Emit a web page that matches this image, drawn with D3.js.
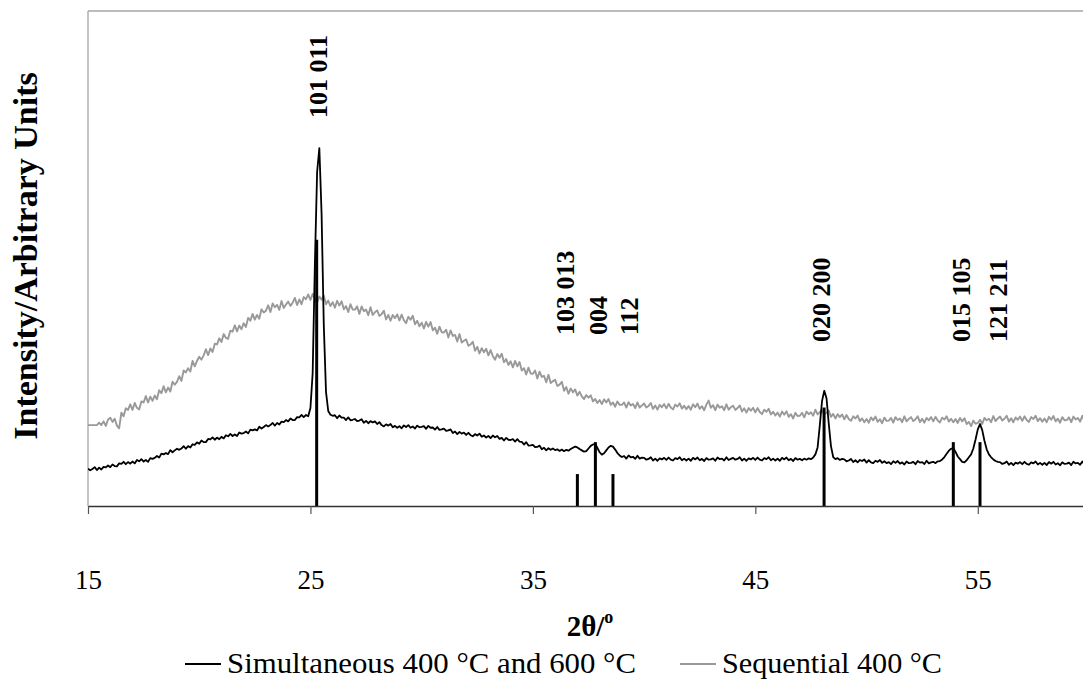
<!DOCTYPE html>
<html>
<head>
<meta charset="utf-8">
<script src="https://cdn.jsdelivr.net/npm/d3@7"></script>
<style>
  body { margin: 0; background: #fff; }
  svg { display: block; font-family: "Liberation Serif", "Times New Roman", serif; }
</style>
</head>
<body>
<svg id="canvas" width="1083" height="687"></svg>
<script>
// diffraction angle grid: first angle and step (degrees 2-theta)
const angleStart = 15;
const angleStep = 0.1;

// Simultaneous 400 °C and 600 °C, one row per degree (15.0 ... 59.9, then 60.0)
const simultaneous = [
  14.0,13.4,13.9,14.6,13.5,14.4,13.7,14.7,14.5,15.2,
  14.6,15.6,15.0,14.9,16.0,15.8,16.6,15.7,16.5,15.9,
  16.7,16.0,17.3,16.8,17.6,16.7,17.3,16.6,18.0,17.7,
  18.1,18.8,18.2,19.7,19.4,19.9,19.5,21.0,20.2,20.9,
  21.5,21.1,21.6,22.5,21.5,22.5,22.0,23.2,23.0,23.9,
  23.4,24.6,24.0,24.0,25.2,25.0,25.8,24.9,25.7,25.1,
  26.0,25.4,26.6,26.2,27.1,26.3,26.9,26.3,27.6,27.2,
  27.4,28.0,27.3,28.7,28.4,28.8,28.4,29.8,29.1,29.7,
  30.4,29.9,30.4,31.2,30.2,31.2,30.6,31.7,31.5,32.3,
  31.8,32.9,32.3,32.3,33.4,33.3,34.2,33.4,34.2,33.7,
  36.8,50.0,91.0,125.5,134.5,110.0,68.0,42.8,35.7,34.3,
  33.9,34.1,33.0,34.0,33.2,33.2,32.3,33.3,32.2,32.4,
  32.7,31.9,32.1,32.6,31.3,32.0,31.1,31.9,31.4,31.8,
  30.8,31.5,30.4,29.9,30.7,30.2,30.8,29.6,30.1,29.4,
  30.0,29.2,30.3,29.7,30.4,29.4,29.9,29.1,30.2,29.6,
  29.7,30.0,29.0,30.1,29.4,29.5,28.7,29.7,28.6,28.8,
  29.1,28.2,28.4,28.8,27.4,28.0,27.0,27.8,27.2,27.6,
  26.7,27.5,26.6,26.2,27.0,26.5,27.2,26.0,26.5,25.7,
  26.3,25.5,26.5,25.8,26.3,25.2,25.6,24.6,25.6,24.9,
  24.8,25.1,24.2,25.1,24.2,24.1,23.1,24.0,22.7,22.8,
  23.0,22.1,22.2,22.7,21.3,21.9,20.9,21.7,21.1,21.6,
  21.0,21.3,20.7,21.2,20.6,21.1,20.8,21.4,21.9,22.3,
  22.0,21.4,20.9,20.4,20.6,21.6,22.6,23.1,23.4,21.8,
  20.2,19.3,19.8,20.9,22.0,22.6,22.3,21.2,19.9,19.0,
  18.4,18.8,17.8,19.0,18.3,18.5,17.7,18.9,17.8,18.2,
  18.1,17.4,17.7,18.3,17.1,17.8,17.0,17.9,17.5,18.1,
  17.3,18.2,17.4,17.1,18.0,17.6,18.3,17.2,17.8,17.1,
  17.8,17.0,18.1,17.5,18.2,17.2,17.7,16.9,18.0,17.4,
  17.5,17.9,17.0,18.2,17.6,17.8,17.1,18.3,17.3,17.7,
  18.1,17.4,17.7,18.3,17.1,17.8,17.0,17.9,17.5,18.1,
  17.3,18.2,17.4,17.1,18.0,17.6,18.3,17.2,17.8,17.1,
  17.8,17.0,18.1,17.5,18.2,17.2,17.7,16.9,18.0,17.4,
  17.7,17.2,17.8,17.4,17.9,17.6,18.2,19.4,22.0,30.5,
  39.5,43.3,40.5,31.0,22.5,18.4,17.6,18.0,17.3,17.7,
  17.5,16.8,17.1,17.7,16.5,17.2,16.4,17.3,16.9,17.5,
  16.3,17.2,16.4,16.1,17.0,16.6,17.3,16.2,16.8,16.1,
  16.5,15.7,16.8,16.2,16.9,15.9,16.4,15.6,16.7,16.1,
  16.2,16.6,15.7,16.9,16.3,16.5,15.8,17.0,16.0,16.4,
  16.6,16.1,16.8,16.9,17.5,18.4,19.6,20.8,21.5,21.8,
  20.3,18.6,17.6,16.6,16.4,17.2,18.3,19.4,21.6,25.0,
  28.8,30.8,28.5,24.5,21.3,19.4,18.3,17.5,16.9,16.6,
  16.5,15.8,16.1,16.7,15.5,16.2,15.4,16.3,15.9,16.5,
  15.7,16.6,15.8,15.5,16.4,16.0,16.7,15.6,16.2,15.5,
  16.2,15.4,16.5,15.9,16.6,15.6,16.1,15.3,16.4,15.8,
  15.9,16.3,15.4,16.6,16.0,16.2,15.5,16.7,15.7,16.1,
  15.9
];

// Sequential 400 °C, same grid
const sequential = [
  30.4,30.4,30.4,30.4,30.4,31.3,30.4,31.8,30.1,32.4,
  33.2,31.6,32.8,30.2,29.2,35.1,33.7,36.7,36.1,38.2,
  36.1,38.7,36.9,36.3,39.3,38.9,41.3,38.9,41.1,39.5,
  41.5,40.1,43.5,42.4,45.0,42.7,44.5,43.0,46.7,45.6,
  46.6,48.8,47.0,50.9,50.2,51.8,50.5,54.5,52.5,54.5,
  56.1,55.0,56.6,58.9,56.7,59.2,57.9,61.0,60.7,63.0,
  61.6,64.6,63.2,62.8,65.9,65.5,67.9,65.6,67.8,66.4,
  68.7,67.3,70.7,69.6,72.2,70.0,71.8,70.4,73.9,72.7,
  73.4,75.4,72.9,76.1,74.7,75.6,73.7,77.0,74.4,75.7,
  76.8,75.2,76.4,78.2,75.5,77.6,75.8,78.5,77.7,79.5,
  77.4,79.7,77.6,76.4,78.7,77.5,79.1,75.8,77.2,75.1,
  76.6,74.5,77.1,75.3,76.9,73.9,75.1,72.9,75.8,73.8,
  73.8,75.0,72.2,75.0,73.2,73.8,71.7,74.7,71.8,72.8,
  73.5,71.4,72.1,73.4,70.1,71.8,69.6,71.8,70.6,72.0,
  69.7,71.9,69.8,68.7,71.1,70.0,71.5,68.3,69.6,67.5,
  68.9,66.7,69.2,67.4,69.1,66.0,67.0,64.7,67.4,65.3,
  65.2,66.2,63.3,66.0,63.9,64.3,61.8,64.6,61.4,62.1,
  62.6,60.2,60.7,61.7,58.3,59.8,57.3,59.3,57.8,59.1,
  56.6,58.6,56.3,55.0,57.1,55.7,57.2,54.0,55.2,53.0,
  54.4,52.1,54.5,52.5,54.1,50.9,51.8,49.4,52.0,49.8,
  49.7,50.9,47.9,50.5,48.5,48.9,46.5,49.3,46.2,46.9,
  47.4,45.1,45.6,46.7,43.3,44.7,42.2,44.2,42.7,43.8,
  41.5,42.9,41.2,40.2,41.7,40.7,41.6,39.3,40.2,38.7,
  39.8,38.3,40.1,38.9,40.2,38.0,38.9,37.3,39.3,38.0,
  38.0,38.9,37.0,39.0,37.8,38.3,36.8,38.9,37.0,37.8,
  38.5,37.0,37.6,38.7,36.5,37.8,36.2,38.0,37.1,38.3,
  36.7,38.4,37.0,36.3,38.1,37.4,38.6,36.6,37.7,36.4,
  37.6,36.2,38.2,37.1,38.5,36.5,37.5,36.0,38.1,39.6,
  36.9,37.9,36.0,38.1,36.9,37.5,36.0,38.2,36.2,37.1,
  37.7,36.1,36.8,37.8,35.5,36.7,35.1,36.8,35.8,36.9,
  35.2,36.8,35.3,34.5,36.2,35.4,36.5,34.4,35.4,34.0,
  35.1,33.6,35.5,34.3,35.6,33.5,34.5,32.9,35.0,33.8,
  33.9,35.0,33.3,35.5,34.5,35.2,33.9,36.2,34.4,35.3,
  36.0,34.5,35.0,35.9,33.5,34.6,32.9,34.5,33.4,34.4,
  32.6,34.2,32.7,32.0,33.7,32.9,34.0,31.9,32.9,31.5,
  32.7,31.3,33.3,32.2,33.6,31.6,32.6,31.1,33.2,32.0,
  32.1,33.1,31.3,33.4,32.3,32.9,31.5,33.7,31.8,32.7,
  33.4,31.9,32.6,33.7,31.5,32.8,31.3,33.1,32.2,33.4,
  31.8,33.5,32.1,31.4,33.2,32.5,33.7,31.7,32.8,31.5,
  32.7,31.2,33.1,31.8,33.0,30.8,31.6,30.0,32.1,30.9,
  31.2,32.4,30.8,33.1,32.2,32.8,31.5,33.8,31.9,32.9,
  33.6,32.1,32.8,33.9,31.7,33.0,31.5,33.3,32.4,33.6,
  32.0,33.7,32.3,31.6,33.4,32.7,33.9,31.9,33.0,31.7,
  32.9,31.5,33.5,32.4,33.8,31.8,32.8,31.3,33.4,32.2,
  32.3,33.3,31.5,33.6,32.5,33.1,31.7,33.9,32.0,32.9,
  32.6
];

// anatase reference pattern (stick positions and relative intensities)
const refAngles = [25.28, 37.0, 37.81, 38.6, 48.09, 53.9, 55.1];
const refIntensity = [100, 12, 24, 12, 37, 24, 24];

// hkl labels and the angle they sit at
const peakLabels = ["101 011", "103 013", "004", "112", "020 200", "015 105", "121 211"];
const labelAngles = [25.35, 36.45, 37.93, 39.33, 47.96, 54.25, 55.92];

const xTicks = [15, 25, 35, 45, 55];
const seriesNames = ["Simultaneous 400 °C and 600 °C", "Sequential 400 °C"];

const settings = {
  left: 88, top: 11, bottom: 506, right: 1089,
  labelBottom: [118, 335, 335, 335, 342, 342, 342],
};

function graph() {
  const svg = d3.select('#canvas');
  const W = +svg.attr('width');

  const x = d3.scaleLinear().domain([15, 60]).range([settings.left, settings.right]);
  const y = d3.scaleLinear().domain([0, 186]).range([settings.bottom, settings.top]);

  svg.append('defs').append('clipPath').attr('id', 'plot')
    .append('rect')
    .attr('x', settings.left).attr('y', settings.top - 2)
    .attr('width', W - settings.left).attr('height', settings.bottom - settings.top + 2);

  // frame (top + left, light gray)
  svg.append('line')
    .attr('x1', settings.left).attr('x2', W)
    .attr('y1', settings.top).attr('y2', settings.top)
    .attr('stroke', '#a6a6a6').attr('stroke-width', 1.3);
  svg.append('line')
    .attr('x1', settings.left).attr('x2', settings.left)
    .attr('y1', settings.top).attr('y2', settings.bottom)
    .attr('stroke', '#a6a6a6').attr('stroke-width', 1.3);

  const line = d3.line()
    .x((d, i) => x(angleStart + i * angleStep))
    .y(d => y(d));

  const plot = svg.append('g').attr('clip-path', 'url(#plot)');

  plot.append('path')
    .datum(sequential)
    .attr('d', line)
    .attr('fill', 'none')
    .attr('stroke', '#999')
    .attr('stroke-width', 1.9)
    .attr('stroke-linejoin', 'round');

  plot.append('path')
    .datum(simultaneous)
    .attr('d', line)
    .attr('fill', 'none')
    .attr('stroke', '#000')
    .attr('stroke-width', 1.8)
    .attr('stroke-linejoin', 'round');

  plot.append('g')
    .selectAll('line')
    .data(refAngles)
    .join('line')
    .attr('x1', d => x(d)).attr('x2', d => x(d))
    .attr('y1', y(0))
    .attr('y2', (d, i) => y(refIntensity[i]))
    .attr('stroke', '#000')
    .attr('stroke-width', 3);

  // x axis
  const xAxis = svg.append('g')
    .attr('transform', `translate(0,${settings.bottom})`)
    .call(d3.axisBottom(x).tickValues(xTicks).tickSize(8).tickSizeOuter(0).tickPadding(56));
  xAxis.select('.domain').attr('stroke', '#333').attr('stroke-width', 1.3);
  xAxis.selectAll('.tick line').attr('stroke', '#555').attr('stroke-width', 1.2);
  xAxis.selectAll('.tick text')
    .attr('fill', '#000')
    .style('font-family', '"Liberation Serif", serif')
    .style('font-size', '27px');

  // peak labels
  svg.append('g')
    .selectAll('text')
    .data(peakLabels)
    .join('text')
    .attr('transform', (d, i) => `translate(${x(labelAngles[i])},${settings.labelBottom[i]}) rotate(-90)`)
    .attr('dy', '0.35em')
    .style('font-size', '26px')
    .style('font-weight', 'bold')
    .text(d => d);

  // axis titles
  svg.append('text')
    .attr('transform', 'translate(37,256) rotate(-90)')
    .attr('text-anchor', 'middle')
    .style('font-size', '34px')
    .style('font-weight', 'bold')
    .text('Intensity/Arbitrary Units');

  const xt = svg.append('text')
    .attr('x', 590).attr('y', 636)
    .attr('text-anchor', 'middle')
    .style('font-size', '29px')
    .style('font-weight', 'bold');
  xt.append('tspan').text('2θ/');
  xt.append('tspan').attr('dy', -13).style('font-size', '18px').text('o');

  // legend
  const legend = svg.append('g').attr('transform', 'translate(0,673)');
  const lx = [185, 680];
  const widths = [409, 220];
  const colors = ['#000', '#999'];
  seriesNames.forEach((name, i) => {
    legend.append('line')
      .attr('x1', lx[i]).attr('x2', lx[i] + 36)
      .attr('y1', -9).attr('y2', -9)
      .attr('stroke', colors[i]).attr('stroke-width', 2);
    legend.append('text')
      .attr('x', lx[i] + 42).attr('y', 0)
      .attr('textLength', widths[i])
      .attr('lengthAdjust', 'spacingAndGlyphs')
      .style('font-size', '29px')
      .text(name);
  });
}

graph();
</script>
</body>
</html>
